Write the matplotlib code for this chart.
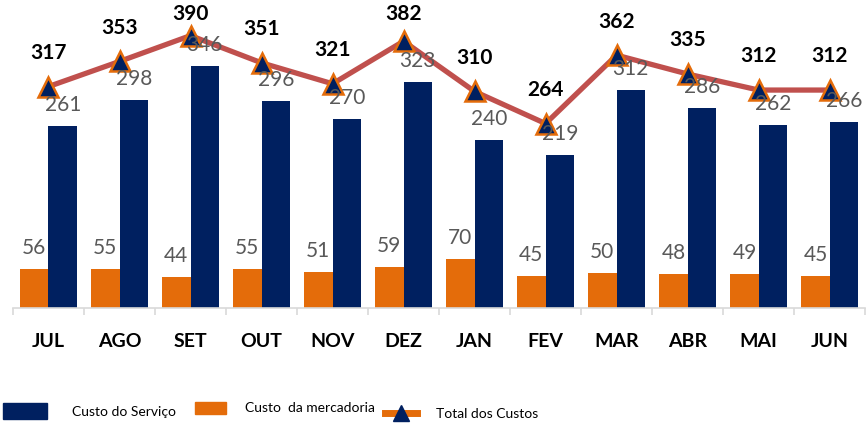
import matplotlib
matplotlib.use("Agg")
import matplotlib.pyplot as plt
import numpy as np
from matplotlib.patches import Patch
from matplotlib.lines import Line2D

plt.rcParams['font.family'] = ['Lato', 'DejaVu Sans']

meses = ['JUL', 'AGO', 'SET', 'OUT', 'NOV', 'DEZ', 'JAN', 'FEV', 'MAR', 'ABR', 'MAI', 'JUN']
servico = [261, 298, 346, 296, 270, 323, 240, 219, 312, 286, 262, 266]
mercadoria = [56, 55, 44, 55, 51, 59, 70, 45, 50, 48, 49, 45]
total = [317, 353, 390, 351, 321, 382, 310, 264, 362, 335, 312, 312]

navy = '#002060'
orange = '#E46C0A'
red = '#C0504D'
gray = '#595959'

fig = plt.figure(figsize=(8.66, 4.30), dpi=100)
ax = fig.add_axes([0.015, 0.284, 0.984, 0.716])
ytop = 441
ax_h_px = 0.716 * 430

x = np.arange(len(meses))
w = 0.4
ax.bar(x - w / 2, mercadoria, w, color=orange, zorder=2)
ax.bar(x + w / 2, servico, w, color=navy, zorder=2)
ax.plot(x, total, color=red, lw=3.8, marker='^', markersize=15,
        markerfacecolor=navy, markeredgecolor=orange, markeredgewidth=1.8, zorder=3)

for i in range(len(meses)):
    ax.annotate(str(mercadoria[i]), (x[i] - w / 2, mercadoria[i]), xytext=(0, 8),
                textcoords='offset points', ha='center', va='bottom', fontsize=15, color=gray)
    ax.annotate(str(servico[i]), (x[i] + w / 2, servico[i]), xytext=(0, 8),
                textcoords='offset points', ha='center', va='bottom', fontsize=15, color=gray, zorder=4)
    # keep the total label inside the plot area (Excel-style clamp)
    room = ax_h_px - total[i] / ytop * ax_h_px - 24
    off = min(17, room * 0.72)
    ax.annotate(str(total[i]), (x[i], total[i]), xytext=(0, off),
                textcoords='offset points', ha='center', va='bottom', fontsize=15,
                fontweight='bold', color='black', zorder=5)

ax.set_xlim(-0.5, len(meses) - 0.5)
ax.set_ylim(0, ytop)
ax.set_yticks([])
for s in ['top', 'right', 'left']:
    ax.spines[s].set_visible(False)
ax.spines['bottom'].set_color('#D9D9D9')
ax.spines['bottom'].set_linewidth(1.2)
ax.set_xticks(x)
ax.set_xticklabels(meses, fontsize=14, fontweight='bold')
ax.tick_params(axis='x', which='major', length=0, pad=18)
ax.set_xticks(np.arange(len(meses) + 1) - 0.5, minor=True)
ax.tick_params(axis='x', which='minor', length=5, color='#D9D9D9', width=1.2)

# legend items placed separately, like the original layout
leg_items = [
    (Patch(color=navy), 'Custo do Serviço', 3, 411, 3.15, 1.3, 1.85),
    (Patch(color=orange), 'Custo  da mercadoria', 195, 408, 2.2, 1.0, 1.4),
    (Line2D([], [], color=orange, lw=5, marker='^', markersize=12,
            markerfacecolor=navy, markeredgecolor=navy),
     'Total dos Custos', 385, 414, 2.3, 1.0, 1.4),
]
for h, lab, px, py, hl, hh, tp in leg_items:
    fig.legend([h], [lab], loc='center left', bbox_to_anchor=(px / 866, 1 - py / 430),
               frameon=False, fontsize=10, handlelength=hl, handleheight=hh,
               handletextpad=tp, borderpad=0, borderaxespad=0)

fig.savefig('out.png', dpi=100)
